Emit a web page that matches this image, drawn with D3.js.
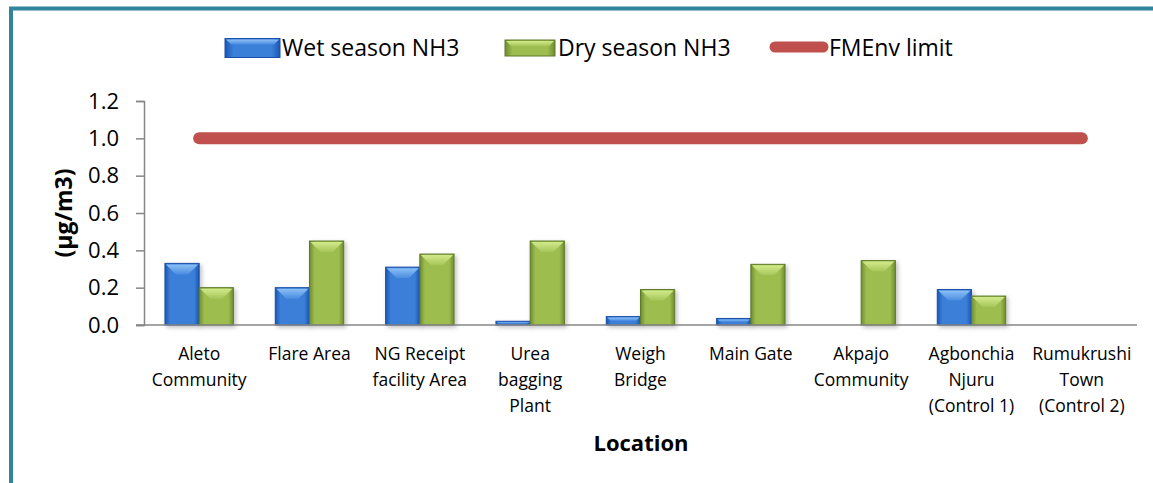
<!DOCTYPE html>
<html>
<head>
<meta charset="utf-8">
<script src="https://cdn.jsdelivr.net/npm/d3@7"></script>
<style>
  body { margin: 0; background: #fff; }
  svg { display: block; font-family: "Open Sans", sans-serif; }
</style>
</head>
<body>
<svg id="chart" width="1153" height="483"></svg>
<script>
var locations = [
    ["Aleto", "Community"],
    ["Flare Area"],
    ["NG Receipt", "facility Area"],
    ["Urea", "bagging", "Plant"],
    ["Weigh", "Bridge"],
    ["Main Gate"],
    ["Akpajo", "Community"],
    ["Agbonchia", "Njuru", "(Control 1)"],
    ["Rumukrushi", "Town", "(Control 2)"]
];
var wetSeason = [0.33, 0.20, 0.31, 0.02, 0.045, 0.035, 0, 0.19, 0];
var drySeason = [0.20, 0.45, 0.38, 0.45, 0.19, 0.325, 0.345, 0.155, 0];
var fmenvLimit = [1, 1, 1, 1, 1, 1, 1, 1, 1];
var yTicks = [0, 0.2, 0.4, 0.6, 0.8, 1.0, 1.2];
var seriesNames = ["Wet season NH3", "Dry season NH3", "FMEnv limit"];

var margin = { top: 101, right: 16, bottom: 158, left: 144 };
var width = 1153 - margin.left - margin.right,
    height = 483 - margin.top - margin.bottom;

var svg = d3.select("#chart");

// frame (only top and left edges visible)
svg.append("path")
    .attr("d", "M11,483V8.5H1153")
    .attr("fill", "none")
    .attr("stroke", "#31849B")
    .attr("stroke-width", 4);

var defs = svg.append("defs");
defs.append("filter").attr("id", "shadow")
    .attr("x", "-20%").attr("y", "-20%").attr("width", "150%").attr("height", "140%")
    .append("feDropShadow")
    .attr("dx", 2).attr("dy", 2).attr("stdDeviation", 2)
    .attr("flood-color", "#000").attr("flood-opacity", 0.25);

function addGradient(id, edge, mid) {
    var g = defs.append("linearGradient").attr("id", id)
        .attr("x1", "0%").attr("x2", "100%").attr("y1", "0%").attr("y2", "0%");
    g.append("stop").attr("offset", "0%").attr("stop-color", edge);
    g.append("stop").attr("offset", "15%").attr("stop-color", mid);
    g.append("stop").attr("offset", "85%").attr("stop-color", mid);
    g.append("stop").attr("offset", "100%").attr("stop-color", edge);
}
function addTopGradient(id, light, mid) {
    var g = defs.append("linearGradient").attr("id", id)
        .attr("x1", "0%").attr("x2", "0%").attr("y1", "0%").attr("y2", "100%");
    g.append("stop").attr("offset", "0%").attr("stop-color", light);
    g.append("stop").attr("offset", "100%").attr("stop-color", mid);
}
addGradient("gWet", "#1C56B4", "#3A7FD8");
addGradient("gDry", "#6F8C30", "#9DBD50");
addTopGradient("tWet", "#8CC0F6", "#4A8CE0");
addTopGradient("tDry", "#D2EA8A", "#A6C55A");

var styles = [
    { fill: "url(#gWet)", stroke: "#1A4FA8", top: "url(#tWet)", flat: "#8CC0F6" },
    { fill: "url(#gDry)", stroke: "#5E7A28", top: "url(#tDry)", flat: "#D2EA8A" }
];

var chart = svg.append("g")
    .attr("transform", "translate(" + margin.left + "," + margin.top + ")");

var x = d3.scaleBand()
    .domain(d3.range(locations.length))
    .range([0, width]);

var xInner = d3.scaleBand()
    .domain([0, 1])
    .range([x.bandwidth() * 0.19, x.bandwidth() * 0.81]);

var y = d3.scaleLinear()
    .domain([0, 1.2])
    .range([height, 0]);

// y axis
var yAxis = d3.axisLeft(y)
    .tickValues(yTicks)
    .tickFormat(d3.format(".1f"))
    .tickSize(8)
    .tickPadding(17);

var gy = chart.append("g").call(yAxis);
gy.select(".domain").attr("stroke", "#868686").attr("stroke-width", 1.5);
gy.selectAll(".tick line").attr("stroke", "#868686").attr("stroke-width", 1.5);
gy.selectAll(".tick text")
    .attr("font-family", "Open Sans")
    .attr("font-size", 22)
    .attr("fill", "#000");

// bars
var series = [wetSeason, drySeason];
series.forEach(function(vals, s) {
    var st = styles[s];
    var g = chart.append("g").attr("filter", "url(#shadow)");
    vals.forEach(function(v, i) {
        if (v <= 0) return;
        var bx = x(i) + xInner(s),
            bw = xInner.bandwidth(),
            by = y(v),
            bh = height - y(v);
        var bar = g.append("g");
        bar.append("rect")
            .attr("x", bx).attr("y", by)
            .attr("width", bw).attr("height", bh)
            .attr("fill", st.fill)
            .attr("stroke", st.stroke)
            .attr("stroke-width", 1);
        var d = Math.min(11, bh / 2, bw / 3);
        if (bh > 3) {
            // bevel: light top facet shaped like a chevron
            bar.append("path")
                .attr("d", "M" + (bx + 1) + "," + (by + 1) +
                    "L" + (bx + bw - 1) + "," + (by + 1) +
                    "L" + (bx + bw - d) + "," + (by + d) +
                    "L" + (bx + d) + "," + (by + d) + "Z")
                .attr("fill", st.top);
        } else {
            bar.append("line")
                .attr("x1", bx + 1).attr("x2", bx + bw - 1)
                .attr("y1", by + 1).attr("y2", by + 1)
                .attr("stroke", st.flat).attr("stroke-width", 1);
        }
    });
});

// x axis line
chart.append("line")
    .attr("x1", -8).attr("x2", width)
    .attr("y1", height).attr("y2", height)
    .attr("stroke", "#868686")
    .attr("stroke-width", 1.5);

// category labels
var labels = chart.append("g")
    .attr("font-family", "Open Sans")
    .attr("font-size", 17.5)
    .attr("text-anchor", "middle")
    .attr("fill", "#000");
locations.forEach(function(lines, i) {
    var t = labels.append("text")
        .attr("x", x(i) + x.bandwidth() / 2)
        .attr("y", height + 35);
    lines.forEach(function(l, k) {
        t.append("tspan")
            .attr("x", x(i) + x.bandwidth() / 2)
            .attr("dy", k === 0 ? 0 : 26)
            .text(l);
    });
});

// FMEnv limit line
var line = d3.line()
    .x(function(d, i) { return x(i) + x.bandwidth() / 2; })
    .y(function(d) { return y(d); });

chart.append("path")
    .datum(fmenvLimit)
    .attr("d", line)
    .attr("fill", "none")
    .attr("stroke", "#C0504D")
    .attr("stroke-width", 12)
    .attr("stroke-linecap", "round");

// axis titles
svg.append("text")
    .attr("x", 641).attr("y", 451)
    .attr("text-anchor", "middle")
    .attr("font-family", "Open Sans")
    .attr("font-weight", "bold")
    .attr("font-size", 22)
    .text("Location");

svg.append("text")
    .attr("transform", "translate(72,213) rotate(-90)")
    .attr("text-anchor", "middle")
    .attr("font-family", "Open Sans")
    .attr("font-weight", "bold")
    .attr("font-size", 23)
    .text("(µg/m3)");

// legend
var legend = svg.append("g")
    .attr("font-family", "Open Sans")
    .attr("font-size", 23);

var leg = [
    { x: 225, textX: 282 },
    { x: 505, textX: 558 },
    { x: 770, textX: 829 }
];

[0, 1].forEach(function(s) {
    var st = styles[s];
    var sw = s === 0 ? 55 : 50, sh = s === 0 ? 19 : 16;
    var sy = 48 - sh / 2;
    legend.append("rect")
        .attr("x", leg[s].x).attr("y", sy)
        .attr("width", sw).attr("height", sh)
        .attr("fill", st.fill)
        .attr("stroke", st.stroke);
    legend.append("path")
        .attr("d", "M" + (leg[s].x + 1) + "," + (sy + 1) + "H" + (leg[s].x + sw - 1) +
            "L" + (leg[s].x + sw - 6) + "," + (sy + 6) + "H" + (leg[s].x + 6) + "Z")
        .attr("fill", st.top);
    legend.append("text")
        .attr("x", leg[s].textX).attr("y", 48)
        .attr("dy", "0.35em")
        .text(seriesNames[s]);
});

legend.append("line")
    .attr("x1", leg[2].x + 5).attr("x2", leg[2].x + 53)
    .attr("y1", 47).attr("y2", 47)
    .attr("stroke", "#C0504D")
    .attr("stroke-width", 11)
    .attr("stroke-linecap", "round");
legend.append("text")
    .attr("x", leg[2].textX).attr("y", 48)
    .attr("dy", "0.35em")
    .text(seriesNames[2]);
</script>
</body>
</html>
